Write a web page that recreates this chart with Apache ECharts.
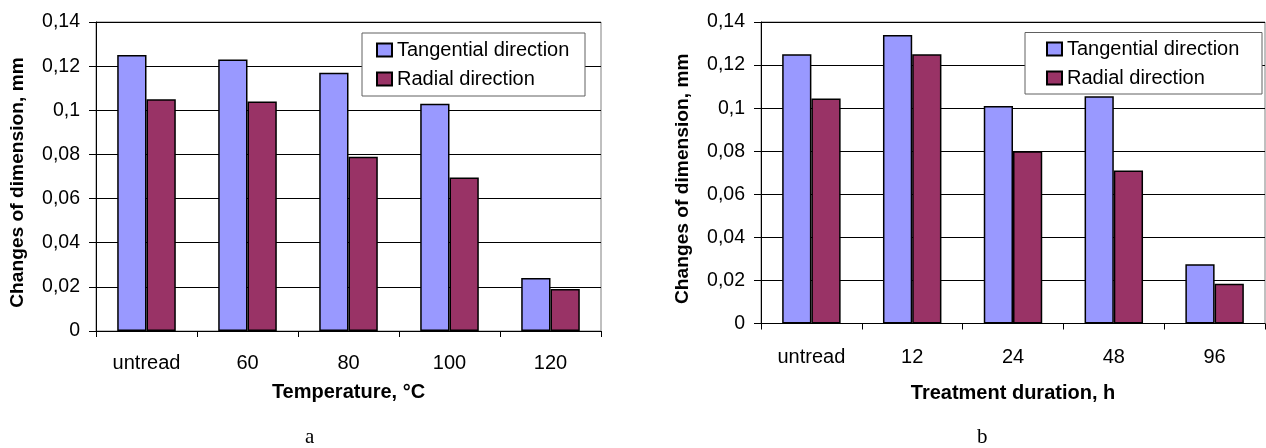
<!DOCTYPE html>
<html>
<head>
<meta charset="utf-8">
<script src="https://cdn.jsdelivr.net/npm/echarts@6/dist/echarts.min.js"></script>
<style>
html,body{margin:0;padding:0;background:#fff;}
#chart{width:1266px;height:448px;}
</style>
</head>
<body>
<div id="chart"></div>
<script>
// Data
var categoriesA = ['untread', '60', '80', '100', '120'];
var tangentialA = [0.125, 0.123, 0.117, 0.103, 0.024];
var radialA = [0.105, 0.104, 0.079, 0.0695, 0.019];

var categoriesB = ['untread', '12', '24', '48', '96'];
var tangentialB = [0.125, 0.134, 0.101, 0.1055, 0.0275];
var radialB = [0.1045, 0.125, 0.080, 0.071, 0.0185];

var seriesNames = ['Tangential direction', 'Radial direction'];
var xTitleA = 'Temperature, °C';
var xTitleB = 'Treatment duration, h';
var yTitle = 'Changes of dimension, mm';

var FONT = 'Liberation Sans, Arial, sans-serif';
var BLUE = '#9999FF', RED = '#993366';

function fmt(v) { return String(+v.toFixed(2)).replace('.', ','); }

function yAxis(gi) {
  return {
    type: 'value', gridIndex: gi, min: 0, max: 0.14, interval: 0.02,
    name: yTitle, nameLocation: 'middle', nameGap: 69, nameRotate: 90,
    nameTextStyle: { fontFamily: FONT, fontSize: 19.2, fontWeight: 'bold', color: '#000', padding: [0, 12, 0, 0] },
    axisLine: { show: true, lineStyle: { color: '#000', width: 1 } },
    axisTick: { show: true, length: 7, lineStyle: { color: '#000' } },
    axisLabel: { formatter: fmt, margin: 16, fontFamily: FONT, fontSize: 19.5, color: '#000' },
    splitLine: { show: true, lineStyle: { color: '#000', width: 1 } }
  };
}
function xAxis(gi, cats, title, gap, lm) {
  return {
    type: 'category', gridIndex: gi, data: cats,
    name: title, nameLocation: 'middle', nameGap: gap,
    nameTextStyle: { fontFamily: FONT, fontSize: 20, fontWeight: 'bold', color: '#000' },
    axisLine: { show: true, lineStyle: { color: '#000', width: 1 } },
    axisTick: { show: true, length: 6, lineStyle: { color: '#000' } },
    axisLabel: { margin: lm, fontFamily: FONT, fontSize: 20, color: '#000' },
    splitLine: { show: false }
  };
}
function bar(name, data, xi, color) {
  return {
    name: name, type: 'bar', xAxisIndex: xi, yAxisIndex: xi, data: data,
    barGap: '0%', barCategoryGap: '42%',
    itemStyle: { color: color, borderColor: '#000', borderWidth: 1.5 },
    emphasis: { disabled: true }, animation: false
  };
}
function legend(left, top) {
  return {
    left: left, top: top, orient: 'vertical', padding: 0, z: 10,
    itemWidth: 15, itemHeight: 13, itemGap: 9, itemTextGap: 5, icon: 'rect',
    selectedMode: false,
    textStyle: { fontFamily: FONT, fontSize: 20, color: '#000', lineHeight: 20 },
    data: seriesNames
  };
}

var chart = echarts.init(document.getElementById('chart'), null, { renderer: 'canvas' });
chart.setOption({
  backgroundColor: '#fff',
  animation: false,
  grid: [
    { left: 96, top: 22, width: 505, height: 309, show: true, borderColor: '#808080', borderWidth: 1, backgroundColor: 'transparent' },
    { left: 761, top: 22, width: 504, height: 301.5, show: true, borderColor: '#808080', borderWidth: 1, backgroundColor: 'transparent' }
  ],
  xAxis: [xAxis(0, categoriesA, xTitleA, 51, 22), xAxis(1, categoriesB, xTitleB, 60, 24)],
  yAxis: [yAxis(0), yAxis(1)],
  legend: [legend(376, 40), legend(1046, 39)],
  graphic: [
    { type: 'rect', z: 3, shape: { x: 362, y: 33, width: 223, height: 63 },
      style: { fill: '#fff', stroke: '#606060', lineWidth: 1 } },
    { type: 'rect', z: 3, shape: { x: 1025, y: 32.5, width: 237, height: 61.5 },
      style: { fill: '#fff', stroke: '#606060', lineWidth: 1 } },
    { type: 'text', left: 305, top: 427, style: { text: 'a', fontFamily: 'Liberation Serif, Times New Roman, serif', fontSize: 21, fill: '#000' } },
    { type: 'text', left: 977, top: 427, style: { text: 'b', fontFamily: 'Liberation Serif, Times New Roman, serif', fontSize: 21, fill: '#000' } }
  ],
  series: [
    bar(seriesNames[0], tangentialA, 0, BLUE),
    bar(seriesNames[1], radialA, 0, RED),
    bar(seriesNames[0], tangentialB, 1, BLUE),
    bar(seriesNames[1], radialB, 1, RED)
  ]
});
</script>
</body>
</html>
